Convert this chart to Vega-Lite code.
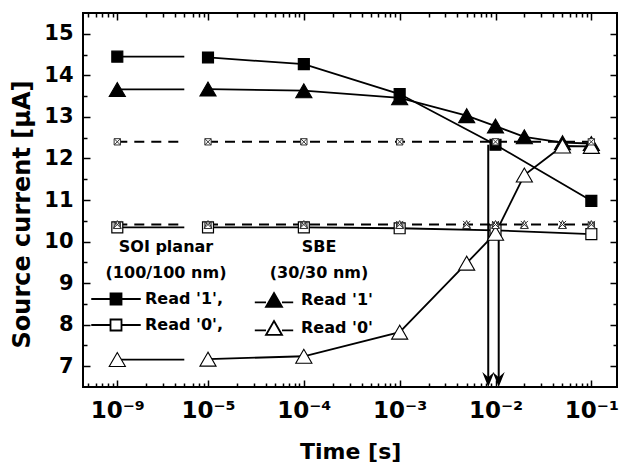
{
  "$schema": "https://vega.github.io/schema/vega-lite/v6.json",
  "width": 534,
  "height": 374,
  "autosize": {"type": "none"},
  "padding": {"left": 83, "top": 13, "right": 2, "bottom": 81},
  "background": "white",
  "config": {
    "font": "DejaVu Sans",
    "view": {"stroke": "black", "strokeWidth": 2},
    "axis": {"labelFont": "DejaVu Sans", "titleFont": "DejaVu Sans", "labelFontWeight": "bold", "titleFontWeight": "bold", "labelColor": "black", "titleColor": "black", "tickColor": "black", "tickWidth": 1.5, "domain": false, "grid": false, "labelOverlap": false, "labelFlush": false},
    "legend": {"labelFont": "DejaVu Sans", "titleFont": "DejaVu Sans", "labelFontWeight": "bold", "titleFontWeight": "bold", "labelColor": "black", "titleColor": "black", "labelFontSize": 16, "titleFontSize": 16}
  },
  "datasets": {
    "main": [
      {"dev": "SOI", "st": "1", "t": 1e-9, "I": 14.45},
      {"dev": "SOI", "st": "1", "t": 1e-5, "I": 14.43},
      {"dev": "SOI", "st": "1", "t": 1e-4, "I": 14.27},
      {"dev": "SOI", "st": "1", "t": 1e-3, "I": 13.55},
      {"dev": "SOI", "st": "1", "t": 1e-2, "I": 12.33},
      {"dev": "SOI", "st": "1", "t": 1e-1, "I": 10.98},
      {"dev": "SOI", "st": "0", "t": 1e-9, "I": 10.34},
      {"dev": "SOI", "st": "0", "t": 1e-5, "I": 10.34},
      {"dev": "SOI", "st": "0", "t": 1e-4, "I": 10.34},
      {"dev": "SOI", "st": "0", "t": 1e-3, "I": 10.32},
      {"dev": "SOI", "st": "0", "t": 1e-2, "I": 10.27},
      {"dev": "SOI", "st": "0", "t": 1e-1, "I": 10.18},
      {"dev": "SBE", "st": "1", "t": 1e-9, "I": 13.66},
      {"dev": "SBE", "st": "1", "t": 1e-5, "I": 13.67},
      {"dev": "SBE", "st": "1", "t": 1e-4, "I": 13.63},
      {"dev": "SBE", "st": "1", "t": 1e-3, "I": 13.46},
      {"dev": "SBE", "st": "1", "t": 5e-3, "I": 13.03},
      {"dev": "SBE", "st": "1", "t": 1e-2, "I": 12.78},
      {"dev": "SBE", "st": "1", "t": 2e-2, "I": 12.52},
      {"dev": "SBE", "st": "1", "t": 5e-2, "I": 12.38},
      {"dev": "SBE", "st": "1", "t": 1e-1, "I": 12.36},
      {"dev": "SBE", "st": "0", "t": 1e-9, "I": 7.16},
      {"dev": "SBE", "st": "0", "t": 1e-5, "I": 7.17},
      {"dev": "SBE", "st": "0", "t": 1e-4, "I": 7.24},
      {"dev": "SBE", "st": "0", "t": 1e-3, "I": 7.82},
      {"dev": "SBE", "st": "0", "t": 5e-3, "I": 9.48},
      {"dev": "SBE", "st": "0", "t": 1e-2, "I": 10.2},
      {"dev": "SBE", "st": "0", "t": 2e-2, "I": 11.6},
      {"dev": "SBE", "st": "0", "t": 5e-2, "I": 12.3},
      {"dev": "SBE", "st": "0", "t": 1e-1, "I": 12.29}
    ],
    "ref": [
      {"g": "R1", "mk": "sq", "t": 1e-9, "I": 12.4},
      {"g": "R1", "mk": "sq", "t": 1e-5, "I": 12.4},
      {"g": "R1", "mk": "sq", "t": 1e-4, "I": 12.4},
      {"g": "R1", "mk": "sq", "t": 1e-3, "I": 12.4},
      {"g": "R1", "mk": "sq", "t": 1e-2, "I": 12.4},
      {"g": "R1", "mk": "sq", "t": 1e-1, "I": 12.4},
      {"g": "R0a", "mk": "sq", "t": 1e-9, "I": 10.39},
      {"g": "R0a", "mk": "sq", "t": 1e-5, "I": 10.39},
      {"g": "R0a", "mk": "sq", "t": 1e-4, "I": 10.39},
      {"g": "R0a", "mk": "sq", "t": 1e-3, "I": 10.39},
      {"g": "R0a", "mk": "sq", "t": 1e-2, "I": 10.39},
      {"g": "R0a", "mk": "sq", "t": 1e-1, "I": 10.39},
      {"g": "R0b", "mk": "tri", "t": 1e-9, "I": 10.41},
      {"g": "R0b", "mk": "tri", "t": 1e-5, "I": 10.41},
      {"g": "R0b", "mk": "tri", "t": 1e-4, "I": 10.41},
      {"g": "R0b", "mk": "tri", "t": 1e-3, "I": 10.41},
      {"g": "R0b", "mk": "tri", "t": 5e-3, "I": 10.41},
      {"g": "R0b", "mk": "tri", "t": 1e-2, "I": 10.41},
      {"g": "R0b", "mk": "tri", "t": 2e-2, "I": 10.41},
      {"g": "R0b", "mk": "tri", "t": 5e-2, "I": 10.41},
      {"g": "R0b", "mk": "tri", "t": 1e-1, "I": 10.41}
    ],
    "arrows": [
      {"t": 0.0084, "top": 12.33},
      {"t": 0.0108, "top": 10.36}
    ]
  },
  "layer": [
    {
      "data": {"name": "ref"},
      "transform": [{"filter": "datum.t > 1e-6 && datum.g != 'R0a'"}],
      "mark": {"type": "line", "strokeDash": [10, 7], "strokeWidth": 2, "color": "black"},
      "encoding": {
        "x": {"field": "t", "type": "quantitative",
          "scale": {"type": "log", "domain": [4.4e-10, 1e-9, 5e-9, 7e-6, 1e-5, 0.1866], "range": [0, 34.3, 101.3, 110.2, 125, 534.3], "nice": false},
          "axis": {"orient": "bottom",
            "values": [5e-10, 6e-10, 7e-10, 8e-10, 9e-10, 1e-9, 2e-9, 3e-9, 4e-9, 5e-9, 7e-6, 8e-6, 9e-6, 1e-5, 2e-5, 3e-5, 4e-5, 5e-5, 6e-5, 7e-5, 8e-5, 9e-5, 1e-4, 2e-4, 3e-4, 4e-4, 5e-4, 6e-4, 7e-4, 8e-4, 9e-4, 1e-3, 2e-3, 3e-3, 4e-3, 5e-3, 6e-3, 7e-3, 8e-3, 9e-3, 1e-2, 2e-2, 3e-2, 4e-2, 5e-2, 6e-2, 7e-2, 8e-2, 9e-2, 1e-1],
            "labelExpr": "datum.value == 1e-9 ? '10⁻⁹' : datum.value == 1e-5 ? '10⁻⁵' : datum.value == 1e-4 ? '10⁻⁴' : datum.value == 1e-3 ? '10⁻³' : datum.value == 1e-2 ? '10⁻²' : datum.value == 1e-1 ? '10⁻¹' : ''",
            "tickSize": {"condition": {"test": "indexof([1e-9, 1e-5, 1e-4, 1e-3, 1e-2, 1e-1], datum.value) >= 0", "value": -7}, "value": -4},
            "labelFontSize": 23, "labelPadding": 19, "title": "Time [s]", "titleFontSize": 22, "titlePadding": 16, "zindex": 1}},
        "y": {"field": "I", "type": "quantitative",
          "scale": {"domain": [6.5, 15.5], "nice": false, "zero": false},
          "axis": {"orient": "left",
            "values": [7, 7.5, 8, 8.5, 9, 9.5, 10, 10.5, 11, 11.5, 12, 12.5, 13, 13.5, 14, 14.5, 15],
            "labelExpr": "datum.value % 1 == 0 ? format(datum.value, 'd') : ''",
            "tickSize": {"condition": {"test": "datum.value % 1 == 0", "value": -7}, "value": -4},
            "labelFontSize": 21, "labelPadding": 17, "title": "Source current [μA]", "titleFontSize": 24, "titlePadding": 9, "titleY": 201, "zindex": 1}},
        "detail": {"field": "g"}
      }
    },
    {
      "data": {"name": "ref"},
      "transform": [{"filter": "datum.t < 1e-6 && datum.g != 'R0a'"}],
      "mark": {"type": "rule", "strokeDash": [10, 7], "strokeWidth": 2, "color": "black"},
      "encoding": {
        "x": {"field": "t", "type": "quantitative", "axis": null,
          "scale": {"type": "log", "domain": [4.4e-10, 1e-9, 5e-9, 7e-6, 1e-5, 0.1866], "range": [0, 34.3, 101.3, 110.2, 125, 534.3], "nice": false}},
        "x2": {"datum": 5e-9},
        "y": {"field": "I", "type": "quantitative", "axis": null,
          "scale": {"domain": [6.5, 15.5], "nice": false, "zero": false}}
      }
    },
    {
      "data": {"name": "main"},
      "transform": [{"filter": "datum.t > 1e-6"}],
      "mark": {"type": "line", "strokeWidth": 1.8, "color": "black"},
      "encoding": {
        "x": {"field": "t", "type": "quantitative",
          "scale": {"type": "log", "domain": [4.4e-10, 1e-9, 5e-9, 7e-6, 1e-5, 0.1866], "range": [0, 34.3, 101.3, 110.2, 125, 534.3], "nice": false},
          "axis": {"orient": "top",
            "values": [5e-10, 6e-10, 7e-10, 8e-10, 9e-10, 1e-9, 2e-9, 3e-9, 4e-9, 5e-9, 7e-6, 8e-6, 9e-6, 1e-5, 2e-5, 3e-5, 4e-5, 5e-5, 6e-5, 7e-5, 8e-5, 9e-5, 1e-4, 2e-4, 3e-4, 4e-4, 5e-4, 6e-4, 7e-4, 8e-4, 9e-4, 1e-3, 2e-3, 3e-3, 4e-3, 5e-3, 6e-3, 7e-3, 8e-3, 9e-3, 1e-2, 2e-2, 3e-2, 4e-2, 5e-2, 6e-2, 7e-2, 8e-2, 9e-2, 1e-1],
            "labels": false,
            "tickSize": {"condition": {"test": "indexof([1e-9, 1e-5, 1e-4, 1e-3, 1e-2, 1e-1], datum.value) >= 0", "value": -7}, "value": -4},
            "title": null, "zindex": 1}},
        "y": {"field": "I", "type": "quantitative",
          "scale": {"domain": [6.5, 15.5], "nice": false, "zero": false},
          "axis": {"orient": "right",
            "values": [7, 7.5, 8, 8.5, 9, 9.5, 10, 10.5, 11, 11.5, 12, 12.5, 13, 13.5, 14, 14.5, 15],
            "labels": false,
            "tickSize": {"condition": {"test": "datum.value % 1 == 0", "value": -7}, "value": -4},
            "title": null, "zindex": 1}},
        "detail": [{"field": "dev"}, {"field": "st"}]
      }
    },
    {
      "data": {"name": "main"},
      "transform": [{"filter": "datum.t < 1e-6"}],
      "mark": {"type": "rule", "strokeWidth": 1.8, "color": "black"},
      "encoding": {
        "x": {"field": "t", "type": "quantitative", "axis": null,
          "scale": {"type": "log", "domain": [4.4e-10, 1e-9, 5e-9, 7e-6, 1e-5, 0.1866], "range": [0, 34.3, 101.3, 110.2, 125, 534.3], "nice": false}},
        "x2": {"datum": 5e-9},
        "y": {"field": "I", "type": "quantitative", "axis": null,
          "scale": {"domain": [6.5, 15.5], "nice": false, "zero": false}}
      }
    },
    {
      "data": {"name": "arrows"},
      "mark": {"type": "rule", "strokeWidth": 2, "color": "black"},
      "encoding": {
        "x": {"field": "t", "type": "quantitative", "axis": null,
          "scale": {"type": "log", "domain": [4.4e-10, 1e-9, 5e-9, 7e-6, 1e-5, 0.1866], "range": [0, 34.3, 101.3, 110.2, 125, 534.3], "nice": false}},
        "y": {"field": "top", "type": "quantitative", "axis": null,
          "scale": {"domain": [6.5, 15.5], "nice": false, "zero": false}},
        "y2": {"datum": 6.62}
      }
    },
    {
      "data": {"name": "arrows"},
      "mark": {"type": "point", "shape": "M0,0L-0.8,-2L0,-1.3L0.8,-2Z", "size": 225, "filled": true, "color": "black", "opacity": 1},
      "encoding": {
        "x": {"field": "t", "type": "quantitative", "axis": null,
          "scale": {"type": "log", "domain": [4.4e-10, 1e-9, 5e-9, 7e-6, 1e-5, 0.1866], "range": [0, 34.3, 101.3, 110.2, 125, 534.3], "nice": false}},
        "y": {"datum": 6.5, "type": "quantitative", "axis": null,
          "scale": {"domain": [6.5, 15.5], "nice": false, "zero": false}}
      }
    },
    {
      "data": {"name": "main"},
      "transform": [{"filter": "datum.dev == 'SOI'"}],
      "mark": {"type": "point", "shape": "square", "size": 120, "filled": true, "stroke": "black", "strokeWidth": 1.2, "opacity": 1},
      "encoding": {
        "x": {"field": "t", "type": "quantitative", "axis": null,
          "scale": {"type": "log", "domain": [4.4e-10, 1e-9, 5e-9, 7e-6, 1e-5, 0.1866], "range": [0, 34.3, 101.3, 110.2, 125, 534.3], "nice": false}},
        "y": {"field": "I", "type": "quantitative", "axis": null,
          "scale": {"domain": [6.5, 15.5], "nice": false, "zero": false}},
        "fill": {"field": "st", "type": "nominal",
          "scale": {"domain": ["1", "0"], "range": ["black", "white"]},
          "legend": {"orient": "none", "legendX": 23, "legendY": 226, "title": ["SOI planar", "(100/100 nm)"], "titleAnchor": "middle", "titleAlign": "center", "titleLineHeight": 26, "titlePadding": 10,
            "symbolType": "M-4.5,0H-1M1,0H4.5M-1,-1H1V1H-1Z", "symbolSize": 121, "symbolStrokeColor": "black", "symbolStrokeWidth": 1.8,
            "labelOffset": 21, "rowPadding": 6,
            "labelExpr": "datum.label == '1' ? \"Read '1',\" : \"Read '0',\""}}
      }
    },
    {
      "data": {"name": "main"},
      "transform": [{"filter": "datum.dev == 'SBE'"}],
      "mark": {"type": "point", "shape": "triangle-up", "size": 260, "filled": true, "stroke": "black", "strokeWidth": 1.1, "opacity": 1},
      "encoding": {
        "x": {"field": "t", "type": "quantitative", "axis": null,
          "scale": {"type": "log", "domain": [4.4e-10, 1e-9, 5e-9, 7e-6, 1e-5, 0.1866], "range": [0, 34.3, 101.3, 110.2, 125, 534.3], "nice": false}},
        "y": {"field": "I", "type": "quantitative", "axis": null,
          "scale": {"domain": [6.5, 15.5], "nice": false, "zero": false}},
        "fill": {"field": "st", "type": "nominal",
          "scale": {"domain": ["1", "0"], "range": ["black", "white"]},
          "legend": {"orient": "none", "legendX": 182, "legendY": 226, "title": ["SBE", "(30/30 nm)"], "titleAnchor": "middle", "titleAlign": "center", "titleLineHeight": 26, "titlePadding": 10,
            "symbolType": "M-2.4,0.3H-1M1,0.3H2.4M0,-0.866L1,0.866H-1Z", "symbolSize": 256, "symbolStrokeColor": "black", "symbolStrokeWidth": 1.8,
            "labelOffset": 18, "rowPadding": 6,
            "labelExpr": "datum.label == '1' ? \"Read '1'\" : \"Read '0'\""}}
      }
    },
    {
      "data": {"name": "ref"},
      "transform": [{"filter": "datum.mk == 'sq'"}],
      "mark": {"type": "point", "shape": "M-1,-1H1V1H-1ZM-1,-1L1,1M1,-1L-1,1", "size": 40, "filled": false, "fill": "white", "stroke": "#333", "strokeWidth": 1, "opacity": 1},
      "encoding": {
        "x": {"field": "t", "type": "quantitative", "axis": null,
          "scale": {"type": "log", "domain": [4.4e-10, 1e-9, 5e-9, 7e-6, 1e-5, 0.1866], "range": [0, 34.3, 101.3, 110.2, 125, 534.3], "nice": false}},
        "y": {"field": "I", "type": "quantitative", "axis": null,
          "scale": {"domain": [6.5, 15.5], "nice": false, "zero": false}}
      }
    },
    {
      "data": {"name": "ref"},
      "transform": [{"filter": "datum.mk == 'tri'"}],
      "mark": {"type": "point", "shape": "M0,-1L1,1H-1ZM-0.9,-0.9L0.9,0.9M0.9,-0.9L-0.9,0.9", "size": 64, "filled": false, "fill": "white", "stroke": "#333", "strokeWidth": 1, "opacity": 1},
      "encoding": {
        "x": {"field": "t", "type": "quantitative", "axis": null,
          "scale": {"type": "log", "domain": [4.4e-10, 1e-9, 5e-9, 7e-6, 1e-5, 0.1866], "range": [0, 34.3, 101.3, 110.2, 125, 534.3], "nice": false}},
        "y": {"field": "I", "type": "quantitative", "axis": null,
          "scale": {"domain": [6.5, 15.5], "nice": false, "zero": false}}
      }
    },
    {
      "mark": {"type": "text", "text": "//", "fontSize": 20, "fontWeight": "bold", "color": "black"},
      "encoding": {
        "x": {"datum": 8e-8, "type": "quantitative", "axis": null,
          "scale": {"type": "log", "domain": [4.4e-10, 1e-9, 5e-9, 7e-6, 1e-5, 0.1866], "range": [0, 34.3, 101.3, 110.2, 125, 534.3], "nice": false}},
        "y": {"datum": 6.5, "type": "quantitative", "axis": null,
          "scale": {"domain": [6.5, 15.5], "nice": false, "zero": false}}
      }
    },
    {
      "mark": {"type": "text", "text": "//", "fontSize": 20, "fontWeight": "bold", "color": "black"},
      "encoding": {
        "x": {"datum": 8e-8, "type": "quantitative", "axis": null,
          "scale": {"type": "log", "domain": [4.4e-10, 1e-9, 5e-9, 7e-6, 1e-5, 0.1866], "range": [0, 34.3, 101.3, 110.2, 125, 534.3], "nice": false}},
        "y": {"datum": 15.5, "type": "quantitative", "axis": null,
          "scale": {"domain": [6.5, 15.5], "nice": false, "zero": false}}
      }
    }
  ],
  "resolve": {"axis": {"x": "independent", "y": "independent"}, "scale": {"fill": "independent"}, "legend": {"fill": "independent"}}
}
